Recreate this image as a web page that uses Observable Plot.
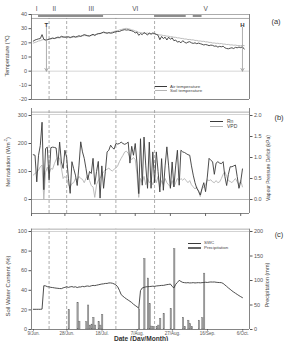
<!DOCTYPE html>
<html>
<head>
<meta charset="utf-8">
<script src="https://cdn.jsdelivr.net/npm/d3@7"></script>
<script src="https://cdn.jsdelivr.net/npm/@observablehq/plot@0.6"></script>
<style>
  html, body { margin: 0; padding: 0; background: #fff; }
  #fig { position: relative; width: 286px; height: 341px; overflow: hidden;
         font-family: "Liberation Sans", Arial, sans-serif; color: #444; }
  #fig svg { position: absolute; left: 0; overflow: visible; }
  .lbl { position: absolute; white-space: nowrap; line-height: 1; transform: translate(-50%, -50%); }
  .leg { position: absolute; white-space: nowrap; line-height: 1; transform: translateY(-50%); }
  .ttl { position: absolute; white-space: nowrap; line-height: 1; transform: translate(-50%, -50%) rotate(-90deg); }
  .sw { position: absolute; }
</style>
</head>
<body>
<div id="fig"></div>
<script>
// ---- daily series, first value on 10 Jun ----
const airTemp = [
  21.2, 22.0, 22.4, 22.8, 23.0, 25.8, 22.5, 22.0, 22.2, 22.6,
  23.0, 23.4, 23.0, 23.6, 24.0, 23.8, 24.6, 24.2, 24.0, 24.1,
  24.3, 23.8, 24.2, 24.6, 24.0, 24.5, 25.0, 24.6, 25.2, 25.8,
  25.4, 25.0, 24.8, 25.5, 26.0, 25.2, 26.0, 26.5, 26.5, 27.0,
  27.6, 27.2, 26.8, 27.2, 26.8, 27.0, 27.5, 27.8, 28.1, 28.0,
  28.6, 29.0, 29.3, 29.0, 29.2, 28.8, 28.5, 28.0, 27.0, 27.5,
  25.3, 26.5, 25.8, 27.2, 26.5, 25.5, 27.0, 26.0, 27.0, 26.5,
  26.0, 25.3, 22.2, 24.5, 23.0, 24.0, 22.0, 24.0, 22.5, 23.5,
  21.5, 22.0, 20.5, 21.0, 20.0, 21.5, 20.5, 19.8, 20.5, 20.8,
  20.0, 19.6, 20.0, 19.4, 19.8, 19.4, 19.0, 18.5, 18.8, 18.5,
  18.0, 18.4, 18.2, 17.6, 17.8, 17.0, 17.5, 17.2, 17.6, 16.5,
  16.0, 15.8, 16.2, 16.5, 16.0, 16.8, 16.5, 17.0, 16.6, 17.2,
  15.6
];
const soilTemp = [
  19.8, 20.3, 20.7, 21.3, 21.5, 22.1, 22.3, 21.9, 22.2, 22.6,
  22.7, 23.1, 23.2, 23.2, 23.6, 23.4, 23.9, 23.8, 24.1, 23.9,
  23.8, 23.5, 23.9, 24.0, 24.3, 23.9, 24.4, 24.5, 24.9, 25.1,
  25.1, 24.9, 24.9, 25.1, 25.6, 25.7, 26.1, 26.4, 26.7, 27.1,
  27.2, 26.9, 26.9, 27.1, 27.2, 27.7, 28.0, 28.4, 28.5, 29.1,
  29.4, 29.7, 30.1, 30.2, 29.9, 29.7, 29.1, 28.9, 28.3, 28.1,
  27.4, 27.3, 26.9, 27.1, 26.7, 26.9, 26.5, 26.6, 26.4, 26.3,
  25.9, 25.9, 25.5, 25.5, 25.1, 25.1, 24.7, 24.7, 24.3, 24.3,
  23.9, 23.9, 23.5, 23.5, 23.1, 23.1, 22.7, 22.7, 22.3, 22.4,
  22.1, 22.1, 21.7, 21.7, 21.3, 21.3, 21.0, 21.1, 20.7, 20.7,
  20.3, 20.3, 19.9, 19.9, 19.6, 19.7, 19.4, 19.5, 19.1, 19.1,
  18.8, 18.9, 18.5, 18.6, 18.3, 18.4, 18.1, 18.1, 17.9, 18.3,
  18.0
];
const netRadiation = [
  160, 158, 63, 158, 193, 276, 35, 182, 187, 70,
  185, 187, 186, 184, 122, 205, 134, 111, 176, 150,
  76, 22, 135, 110, 87, 50, 120, 206, 170, 147,
  110, 70, 100, 93, 147, 54, 100, 136, 5, 120,
  40, 100, 170, 176, 194, 185, 180, 200, 198, 200,
  205, 200, 197, 200, 205, 130, 190, 158, 200, 130,
  21, 217, 51, 223, 120, 40, 205, 40, 170, 60,
  170, 100, 27, 146, 33, 120, 188, 120, 40, 134,
  45, 120, 176, 51, 176, 170, 168, 164, 160, 158,
  120, 87, 60, 40, 30, 16, 40, 60, 28, 80,
  147, 140, 135, 90, 130, 135, 130, 128, 135, 82,
  50, 90, 117, 117, 120, 123, 82, 40, 64, 109
];
const vpd = [
  0.58, 0.62, 0.65, 0.70, 0.78, 0.82, 0.00, 0.65, 0.77, 0.60,
  0.74, 0.72, 0.85, 0.95, 1.00, 0.98, 0.75, 0.50, 0.55, 0.50,
  0.35, 0.30, 0.38, 0.40, 0.50, 0.45, 0.55, 0.50, 0.48, 0.40,
  0.50, 0.58, 0.45, 0.33, 0.30, 0.05, 0.35, 0.46, 0.50, 0.60,
  0.66, 0.70, 0.72, 0.75, 0.70, 0.68, 0.72, 0.75, 0.80, 0.90,
  0.98, 1.05, 1.13, 1.15, 1.10, 1.00, 0.95, 1.00, 0.95, 0.60,
  0.05, 0.50, 0.40, 0.55, 0.35, 0.50, 0.40, 0.45, 0.35, 0.50,
  0.40, 0.55, 0.30, 0.45, 0.35, 0.50, 0.40, 0.35, 0.30, 0.45,
  0.30, 0.40, 0.50, 0.45, 0.50, 0.46, 0.50, 0.45, 0.40, 0.45,
  0.35, 0.30, 0.25, 0.30, 0.20, 0.07, 0.25, 0.30, 0.35, 0.47,
  0.45, 0.47, 0.42, 0.40, 0.45, 0.40, 0.42, 0.50, 0.60, 0.66,
  0.55, 0.45, 0.43, 0.40, 0.45, 0.50, 0.42, 0.35, 0.45, 0.30
];
const swc = [
  20.6, 20.6, 20.6, 20.6, 20.6, 20.8, 44.7, 44.5, 43.7, 43.5,
  43.0, 42.8, 42.5, 42.2, 42.0, 41.8, 41.7, 42.5, 43.0, 43.6,
  43.0, 43.5, 43.8, 43.2, 43.6, 42.8, 43.4, 43.4, 44.0, 43.6,
  44.2, 44.4, 44.0, 44.6, 45.0, 44.8, 45.2, 45.6, 46.0, 46.4,
  46.6, 47.0, 47.0, 47.5, 47.5, 47.2, 46.5, 45.5, 43.7, 40.0,
  35.6, 34.0, 32.5, 31.2, 30.0, 28.8, 27.5, 25.8, 24.5, 23.2,
  21.7, 39.7, 42.4, 43.0, 43.5, 43.7, 43.8, 44.0, 44.2, 44.0,
  44.4, 44.6, 44.8, 45.0, 45.0, 45.4, 45.8, 46.0, 46.4, 44.0,
  42.4, 46.0, 48.0, 50.2, 49.0, 48.1, 47.8, 47.6, 47.8, 47.5,
  47.6, 47.8, 47.5, 47.7, 47.8, 47.6, 47.8, 48.0, 48.2, 48.0,
  48.3, 48.5, 48.4, 48.5, 48.2, 48.0, 47.9, 47.8, 47.0, 45.5,
  44.0, 42.4, 41.0, 39.5, 38.2, 37.0, 35.8, 34.6, 33.5, 32.5
];

// ---- daily precipitation (mm) ----
const precipDate = [
  "2014-06-30", "2014-07-05", "2014-07-06", "2014-07-10", "2014-07-11", "2014-07-12",
  "2014-07-13", "2014-07-14", "2014-07-15", "2014-07-17", "2014-07-18", "2014-07-19",
  "2014-08-09", "2014-08-12", "2014-08-14", "2014-08-15", "2014-08-16", "2014-08-17",
  "2014-08-19", "2014-08-20", "2014-08-21", "2014-08-23", "2014-08-27", "2014-08-29",
  "2014-09-03", "2014-09-04", "2014-09-06", "2014-09-07", "2014-09-08", "2014-09-12",
  "2014-09-14", "2014-09-15"
];
const precipMm = [
  40, 54, 16, 15, 49, 8,
  10, 24, 8, 15, 8, 30,
  41, 144, 104, 52, 6, 5,
  5, 8, 22, 32, 42, 164,
  24, 5, 18, 11, 5, 18,
  23, 114
];

// ---- growth phases ----
const phaseBreaks = ["2014-06-19", "2014-06-29", "2014-07-27", "2014-08-18"];
const phaseNames = ["I", "II", "III", "VI", "V"];
const phaseLabelDate = ["2014-06-12", "2014-06-22", "2014-07-13", "2014-08-07", "2014-09-16"];
const bandStart = ["2014-06-13", "2014-08-18", "2014-09-09"];
const bandEnd = ["2014-07-20", "2014-09-05", "2014-09-14"];
const markerNames = ["T", "H"];
const markerDate = ["2014-06-17T12:00Z", "2014-10-07"];

// ---- axes ----
const tickDates = ["2014-06-09", "2014-06-28", "2014-07-18", "2014-08-07", "2014-08-27", "2014-09-16", "2014-10-06"];
const tickLabels = ["9/Jun.", "28/Jun.", "18/Jul.", "7/Aug.", "27/Aug.", "16/Sep.", "6/Oct."];
const dateStart = "2014-06-09", dateEnd = "2014-10-11";
const firstDay = "2014-06-10";

// ---- build rows ----
const D = s => new Date(s);
const DAY = 864e5;
const daily = vals => vals.map((v, i) => ({date: new Date(D(firstDay).getTime() + i * DAY), v}));
const air = daily(airTemp), soil = daily(soilTemp), rn = daily(netRadiation), vp = daily(vpd), sw = daily(swc);
const precip = precipDate.map((s, i) => ({start: D(s), end: new Date(D(s).getTime() + DAY), mm: precipMm[i]}));
const breaks = phaseBreaks.map(D);
const phases = phaseNames.map((n, i) => ({name: n, date: D(phaseLabelDate[i])}));
const bands = bandStart.map((s, i) => ({start: D(s), end: D(bandEnd[i])}));
const markers = markerNames.map((n, i) => ({name: n, date: D(markerDate[i])}));
const ticks = tickDates.map(D);
const edges = [D(dateStart), D(dateEnd)];

const W = 286, ML = 31, MR = 37;
const DARK = "#3a3a3a", LIGHT = "#b4b4b4", AXIS = "#666";
const FONT = '"Liberation Sans", Arial, sans-serif';
const xScale = () => ({type: "utc", domain: edges, axis: null});
const dash = {stroke: "#8a8a8a", strokeWidth: 0.7, strokeDasharray: "3,2"};
const style = {fontFamily: FONT, fontSize: "5.5px", color: "#444", background: "transparent", overflow: "visible"};
const fig = document.getElementById("fig");

function place(svg, top) { svg.style.top = top + "px"; fig.appendChild(svg); }

// (a) temperature
place(Plot.plot({
  width: W, height: 104, marginLeft: ML, marginRight: MR, marginTop: 14, marginBottom: 5,
  style, x: xScale(), y: {domain: [-20, 40], axis: null},
  marks: [
    Plot.ruleY([0], {stroke: "#c4c4c4", strokeWidth: 0.7}),
    Plot.ruleX(breaks, {y1: -20, y2: 37.2, ...dash}),
    Plot.rect(bands, {x1: "start", x2: "end", y1: 37.9, y2: 39.3, fill: "#8c8c8c"}),
    Plot.ruleY([40, 37.2], {stroke: "#888", strokeWidth: 0.7}),
    Plot.ruleY([-20], {stroke: AXIS, strokeWidth: 0.8}),
    Plot.ruleX(edges, {y1: -20, y2: 40, stroke: AXIS, strokeWidth: 0.8}),
    Plot.line(soil, {x: "date", y: "v", stroke: LIGHT, strokeWidth: 0.9}),
    Plot.line(air, {x: "date", y: "v", stroke: DARK, strokeWidth: 0.9}),
    Plot.arrow(markers, {x1: "date", x2: "date", y1: 31, y2: 0, stroke: "#9a9a9a", strokeWidth: 0.8, headLength: 6, bend: 0}),
    Plot.text(markers, {x: "date", y: 32.6, text: "name", fontSize: 6, fontWeight: "bold", fill: "#333"}),
    Plot.text(phases, {x: "date", y: 44.3, text: "name", fontSize: 6.5, fill: "#555"}),
    Plot.axisY({anchor: "left", ticks: [-20, -10, 0, 10, 20, 30, 40], tickFormat: d => String(d),
      tickSize: 2.5, tickPadding: 2, fontSize: 5.5, color: "#555", label: null})
  ]
}), 0);

// (b) net radiation and vapour pressure deficit (VPD drawn on the Rn scale, 1 kPa = 150 Wm-2)
place(Plot.plot({
  width: W, height: 114, marginLeft: ML, marginRight: MR, marginTop: 11, marginBottom: 5,
  style, x: xScale(), y: {domain: [-50, 300], axis: null},
  marks: [
    Plot.ruleY([0], {stroke: "#a8a8a8", strokeWidth: 0.8}),
    Plot.ruleX(breaks, {y1: -50, y2: 325, ...dash}),
    Plot.ruleY([312], {stroke: "#999", strokeWidth: 0.8}),
    Plot.ruleY([303.5], {stroke: "#c8c8c8", strokeWidth: 0.8}),
    Plot.ruleY([-50], {stroke: AXIS, strokeWidth: 0.8}),
    Plot.ruleX(edges, {y1: -50, y2: 325, stroke: AXIS, strokeWidth: 0.8}),
    Plot.line(vp, {x: "date", y: d => d.v * 150, stroke: LIGHT, strokeWidth: 0.9}),
    Plot.line(rn, {x: "date", y: "v", stroke: DARK, strokeWidth: 0.9}),
    Plot.axisY({anchor: "left", ticks: [0, 100, 200, 300], tickSize: 2.5, tickPadding: 2,
      fontSize: 5.5, color: "#555", label: null}),
    Plot.axisY({anchor: "right", ticks: [0, 75, 150, 225, 300], tickFormat: d => (d / 150).toFixed(1),
      tickSize: 2.5, tickPadding: 2, fontSize: 5.5, color: "#555", label: null}),
    Plot.axisX({ticks, tickSize: 3, tickFormat: () => "", color: AXIS, label: null})
  ]
}), 104);

// (c) soil water content and precipitation (precipitation drawn on the SWC scale, 2 mm = 1 %)
place(Plot.plot({
  width: W, height: 123, marginLeft: ML, marginRight: MR, marginTop: 13, marginBottom: 12,
  style, x: xScale(), y: {domain: [0, 100], axis: null},
  marks: [
    Plot.ruleX(breaks, {y1: 0, y2: 102.4, ...dash}),
    Plot.ruleY([102.4], {stroke: "#999", strokeWidth: 0.8}),
    Plot.ruleY([100], {stroke: "#c8c8c8", strokeWidth: 0.8}),
    Plot.rect(precip, {x1: "start", x2: "end", y1: 0, y2: d => d.mm / 2, insetLeft: 0.2, insetRight: 0.2,
      fill: "#a3a3a3", stroke: "#666", strokeWidth: 0.4}),
    Plot.line(sw, {x: "date", y: "v", stroke: DARK, strokeWidth: 0.9}),
    Plot.ruleY([0], {stroke: AXIS, strokeWidth: 0.8}),
    Plot.ruleX(edges, {y1: 0, y2: 102.4, stroke: AXIS, strokeWidth: 0.8}),
    Plot.axisY({anchor: "left", ticks: [0, 20, 40, 60, 80, 100], tickSize: 2.5, tickPadding: 2,
      fontSize: 5.5, color: "#555", label: null}),
    Plot.axisY({anchor: "right", ticks: [0, 25, 50, 75, 100], tickFormat: d => String(d * 2),
      tickSize: 2.5, tickPadding: 2, fontSize: 5.5, color: "#555", label: null}),
    Plot.axisX({ticks, tickSize: 1.5, tickPadding: 0.5, fontSize: 4.5, color: "#555", label: null, dx: 2,
      tickFormat: d => tickLabels[ticks.findIndex(t => +t === +d)]})
  ]
}), 218);

// ---- titles, panel tags and legends ----
function html(cls, text, x, y, css) {
  const el = document.createElement("div");
  el.className = cls;
  el.innerHTML = text;
  Object.assign(el.style, {left: x + "px", top: y + "px"}, css || {});
  fig.appendChild(el);
}
function swatch(x, y, w, h, css) {
  const el = document.createElement("div");
  el.className = "sw";
  Object.assign(el.style, {left: x + "px", top: y + "px", width: w + "px", height: h + "px"}, css);
  fig.appendChild(el);
}
html("ttl", "Temperature (℃)", 8, 56, {fontSize: "5.5px"});
html("ttl", "Net radiation (Wm<sup style='font-size:70%'>-2</sup>)", 8, 162, {fontSize: "5.5px"});
html("ttl", "Soil Water Content (%)", 8, 286, {fontSize: "6px"});
html("ttl", "Vapour Pressure Deficit (kPa)", 268, 168, {fontSize: "5px"});
html("ttl", "Precipitation (mm)", 268, 285, {fontSize: "5.5px"});
html("lbl", "Date (Day/Month)", 141, 338.6, {fontSize: "6.6px", fontWeight: "bold", color: "#333"});
html("lbl", "(a)", 276, 22, {fontSize: "7.5px", color: "#333"});
html("lbl", "(b)", 279, 118, {fontSize: "7.5px", color: "#333"});
html("lbl", "(c)", 279, 235, {fontSize: "7.5px", color: "#333"});

swatch(155, 86.3, 12, 0, {borderTop: "0.9px solid " + DARK});
swatch(155, 90.3, 12, 0, {borderTop: "0.9px solid " + LIGHT});
html("leg", "Air temperature", 170, 86.8, {fontSize: "4.4px"});
html("leg", "Soil temperature", 170, 90.8, {fontSize: "4.4px"});

swatch(210, 120.5, 13, 0, {borderTop: "0.9px solid " + DARK});
swatch(210, 125.8, 13, 0, {borderTop: "0.9px solid " + LIGHT});
html("leg", "Rn", 227, 121, {fontSize: "5px"});
html("leg", "VPD", 227, 126.3, {fontSize: "5px"});

swatch(188, 243, 13, 0, {borderTop: "0.8px solid " + DARK});
swatch(188, 246.6, 13, 2.2, {background: "#a3a3a3", boxSizing: "border-box", border: "0.4px solid #666"});
html("leg", "SWC", 204, 243.3, {fontSize: "4.4px"});
html("leg", "Precipitation", 204, 247.7, {fontSize: "4.4px"});
</script>
</body>
</html>
